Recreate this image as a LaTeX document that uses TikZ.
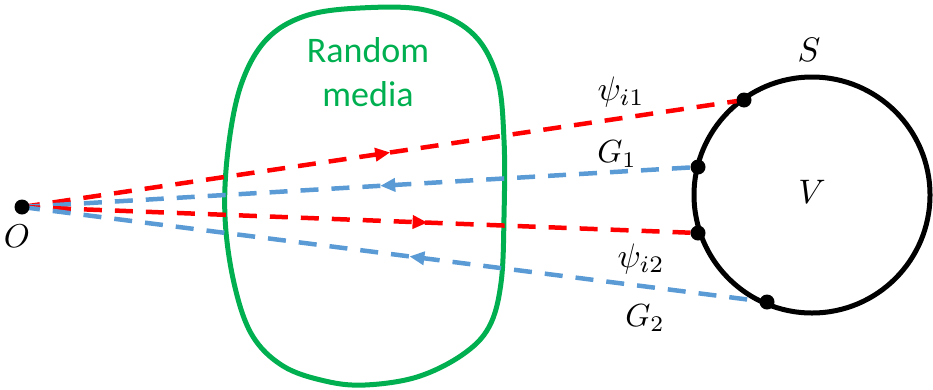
\documentclass[tikz,border=0pt]{standalone}
\usepackage{graphicx}
\usepackage{fontspec}
\newfontfamily\carlito{Carlito}
\usetikzlibrary{decorations.markings,arrows.meta}
\definecolor{redl}{RGB}{255,0,0}
\definecolor{bluel}{RGB}{91,155,213}
\definecolor{greenl}{RGB}{0,176,80}
\newcommand{\mylabtxt}[2][3.2]{\scalebox{#1}{$#2$}}
\tikzset{
  ray/.style={line width=4.5pt, dash pattern=on 18pt off 13pt},
  fwd/.style={ray, redl, postaction={decorate}, decoration={markings,
    mark=at position #1 with {\arrow{Triangle[length=15pt,width=13pt]}}}},
  bwd/.style={ray, bluel, postaction={decorate}, decoration={markings,
    mark=at position #1 with {\arrowreversed{Triangle[length=15pt,width=13pt]}}}},
  pt/.style={circle, fill=black, inner sep=0pt, minimum size=15pt},
  lab/.style={inner sep=0pt},
}
\begin{document}
\begin{tikzpicture}[x=1pt,y=-1pt]
\useasboundingbox (0,0) rectangle (933,389);
% random medium
\draw[greenl, line width=5pt] plot[smooth cycle, tension=0.6] coordinates {
 (360,8) (425,10) (472,33) (497,77) (504,140) (504,217) (501,283) (489,327)
 (462,355) (417,377) (365,385) (325,381) (283,366) (252,335) (234,283)
 (225,217) (228,150) (241,85) (266,40) (305,16)};
\node[greenl, align=center, inner sep=0pt, font=\carlito\fontsize{36}{44}\selectfont] (rm) at (368,72) {Random\\media};
% surface
\node[circle, draw=black, line width=5pt, minimum size=236pt, inner sep=0pt] (S) at (812,195) {};
\coordinate (O) at (22,207);
\coordinate (p1) at (744,100);
\coordinate (g1) at (698,167);
\coordinate (p2) at (698,233);
\coordinate (g2) at (767,302);
\draw[fwd=0.51] (O) -- (p1);
\draw[bwd=0.53] (O) -- (g1);
\draw[fwd=0.60] (O) -- (p2);
\draw[bwd=0.52] (O) -- (g2);
\node[pt] (dO) at (O) {};
\node[pt] (d1) at (p1) {};
\node[pt] (d2) at (g1) {};
\node[pt] (d3) at (p2) {};
\node[pt] (d4) at (g2) {};
% labels
\node[lab] (lO) at (17,236) {\mylabtxt[3.3]{O}};
\node[lab] (lS) at (809,50) {\mylabtxt[3.4]{S}};
\node[lab] (lV) at (812,192) {\mylabtxt[3.4]{V}};
\node[lab] (lp1) at (621,92) {\mylabtxt[3.4]{\psi_{i1}}};
\node[lab] (lg1) at (617,154) {\mylabtxt{G_1}};
\node[lab] (lp2) at (641,259) {\mylabtxt[3.4]{\psi_{i2}}};
\node[lab] (lg2) at (645,318) {\mylabtxt{G_2}};
\end{tikzpicture}
\end{document}
